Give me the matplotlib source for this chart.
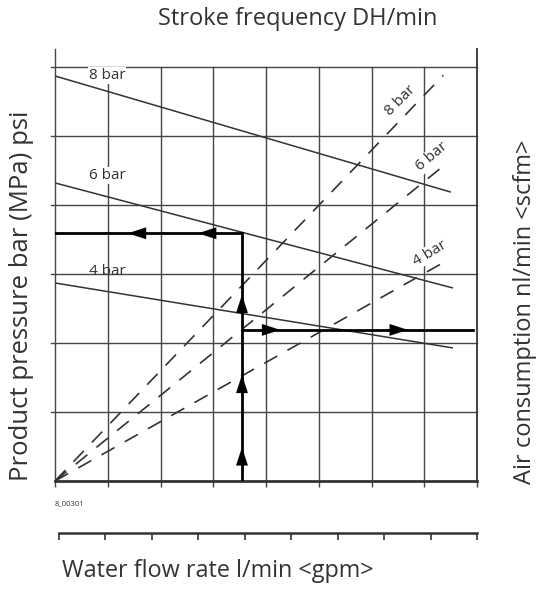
import numpy as np
import matplotlib
matplotlib.use("Agg")
import matplotlib.pyplot as plt

plt.rcParams['font.family'] = ['Open Sans', 'DejaVu Sans']

# grid in chart units (8 columns x 6 rows)
n_cols = 8
n_rows = 6

# product pressure lines (solid, falling)
press_labels = ['8 bar', '6 bar', '4 bar']
press_y_start = [5.87, 4.32, 2.87]
press_x_end = [7.49, 7.53, 7.53]
press_y_end = [4.19, 2.80, 1.93]
press_lab_y = [5.88, 4.43, 3.03]

# air consumption lines (dashed, from origin)
air_labels = ['8 bar', '6 bar', '4 bar']
air_x_end = [7.36, 7.45, 7.49]
air_y_end = [5.88, 4.62, 3.22]
air_lab_x = [6.54, 7.15, 7.11]
air_lab_y = [5.52, 4.70, 3.30]

# reading example path
read_x = 3.545
read_y_top = 3.59
read_y_low = 2.19
read_x_right = 7.92
arrows_left = [1.38, 2.71]
arrows_up = [0.49, 1.54, 2.70]
arrows_right = [4.27, 6.69]

W, H = 540, 589
fig = plt.figure(figsize=(W / 100, H / 100), dpi=100)
ax = fig.add_axes([55 / W, 1 - 481 / H, 422 / W, 432 / H])
ax.set_xlim(0, n_cols)
ax.set_ylim(0, (481 - 49) / 69)

grid_c = '#454545'
for i in range(1, n_cols):
    ax.axvline(i, ymin=0, ymax=n_rows / ax.get_ylim()[1], color=grid_c, lw=1.0, zorder=1)
for j in range(1, n_rows + 1):
    ax.plot([-0.08, n_cols], [j, j], color=grid_c, lw=1.0, zorder=1, clip_on=False)

ax.spines['top'].set_visible(False)
ax.spines['left'].set_linewidth(1.0)
ax.spines['left'].set_color(grid_c)
ax.spines['right'].set_linewidth(1.3)
ax.spines['right'].set_color('#333333')
ax.spines['bottom'].set_linewidth(2.0)
ax.spines['bottom'].set_color('#333333')
ax.set_xticks(range(0, n_cols + 1))
ax.set_xticklabels([])
ax.set_yticks([])
ax.tick_params(axis='x', length=4, width=1.0, color=grid_c, direction='out')

# pressure lines
for lab, y0, x1, y1, ly in zip(press_labels, press_y_start, press_x_end, press_y_end, press_lab_y):
    ax.plot([0, x1], [y0, y1], color='#333333', lw=1.1, zorder=3)
    bb = dict(facecolor='white', edgecolor='none', pad=0.5) if lab != '4 bar' else None
    ax.text(0.99, ly, lab, fontsize=11, ha='center', va='center',
            color='#333333', bbox=bb, zorder=4)

# air lines
air_rot = [45, 40, 31]
for lab, x1, y1, r, lx, ly in zip(air_labels, air_x_end, air_y_end, air_rot, air_lab_x, air_lab_y):
    ax.plot([0, x1], [0, y1], color='#333333', lw=1.2, ls=(0, (9, 7)), zorder=3)
    ax.text(lx, ly, lab, fontsize=11, rotation=r, ha='center', va='center',
            color='#333333', rotation_mode='anchor',
            bbox=dict(facecolor='white', edgecolor='none', pad=0.5), zorder=4)

# reading path
ax.plot([0, read_x, read_x], [read_y_top, read_y_top, 0], color='black', lw=2.0,
        solid_joinstyle='miter', zorder=5)
ax.plot([read_x, read_x_right], [read_y_low, read_y_low], color='black', lw=2.0, zorder=5)

ap = dict(arrowstyle='-|>,head_length=1.3,head_width=0.42', color='black', lw=0.1,
          shrinkA=0, shrinkB=0, mutation_scale=10)
for x in arrows_left:
    ax.annotate('', xy=(x, read_y_top), xytext=(x + 0.4, read_y_top), arrowprops=ap, zorder=6)
for y in arrows_up:
    ax.annotate('', xy=(read_x, y), xytext=(read_x, y - 0.3), arrowprops=ap, zorder=6)
for x in arrows_right:
    ax.annotate('', xy=(x, read_y_low), xytext=(x - 0.4, read_y_low), arrowprops=ap, zorder=6)

# second horizontal scale
ax2 = fig.add_axes([59 / W, 1 - 533 / H, 418 / W, 0.01])
ax2.set_xlim(0, 9)
for s in ['top', 'left', 'right']:
    ax2.spines[s].set_visible(False)
ax2.spines['bottom'].set_linewidth(1.8)
ax2.spines['bottom'].set_color('#333333')
ax2.set_yticks([])
ax2.set_xticks(range(0, 10))
ax2.set_xticklabels([])
ax2.tick_params(axis='x', length=5, width=1.2, color='#333333', direction='out')
ax2.patch.set_visible(False)

# texts
fig.text(298 / W, 1 - 19 / H, 'Stroke frequency DH/min', fontsize=17, ha='center', va='center', color='#333333')
fig.text(62 / W, 1 - 571 / H, 'Water flow rate l/min <gpm>', fontsize=16.8, ha='left', va='center', color='#333333')
fig.text(22 / W, 1 - 296 / H, 'Product pressure bar (MPa) psi', fontsize=18.5, rotation=90,
         ha='center', va='center', color='#333333')
fig.text(525 / W, 1 - 312 / H, 'Air consumption nl/min <scfm>', fontsize=17, rotation=90,
         ha='center', va='center', color='#333333')
fig.text(55 / W, 1 - 504 / H, '8_00301', fontsize=5.5, ha='left', va='center', color='#333333')

fig.savefig('out.png', dpi=100)
